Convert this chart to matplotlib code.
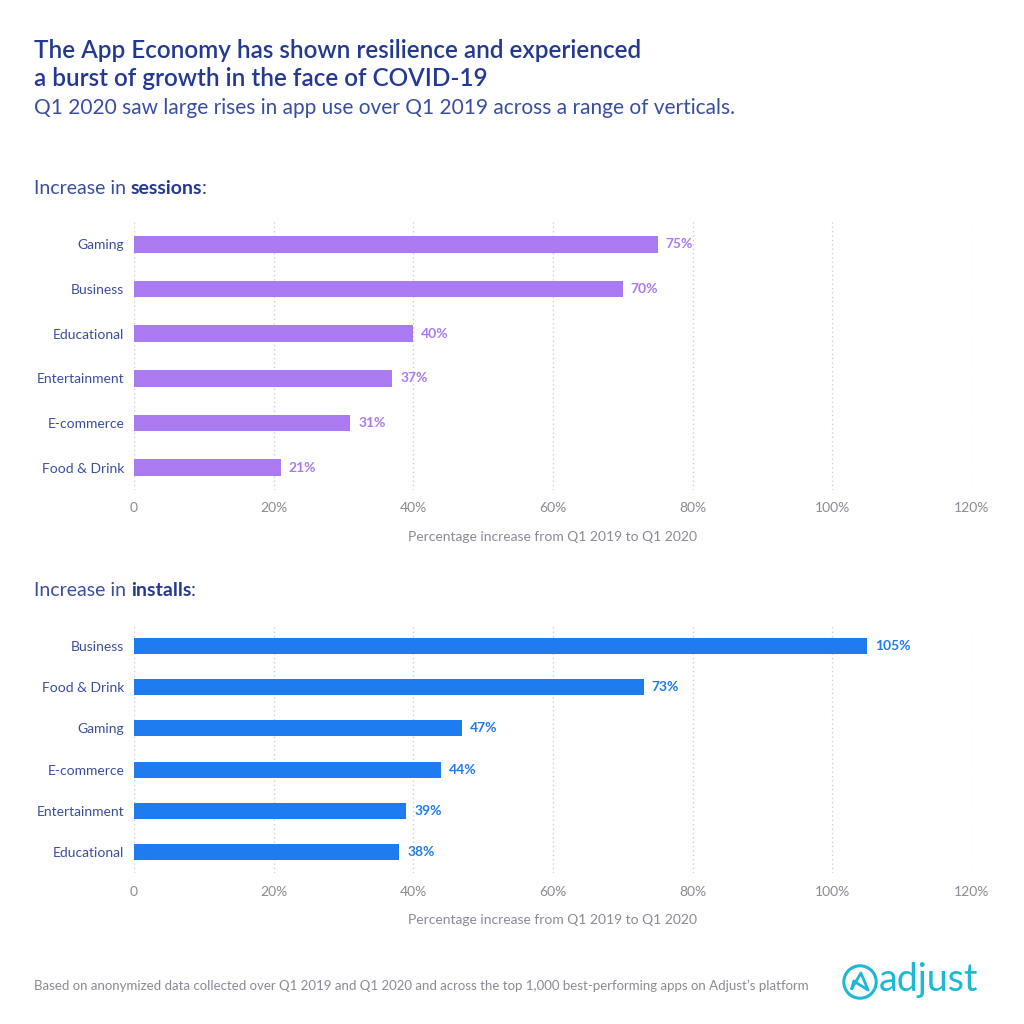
#! /usr/bin/env python3

import numpy as np
import matplotlib
matplotlib.use("Agg")
from matplotlib import pyplot as plt
from matplotlib.patches import Circle

plt.rcParams['font.family'] = ['Lato', 'DejaVu Sans']

# Data
session_cats   = ["Gaming", "Business", "Educational", "Entertainment", "E-commerce", "Food & Drink"]
session_values = [75, 70, 40, 37, 31, 21]

install_cats   = ["Business", "Food & Drink", "Gaming", "E-commerce", "Entertainment", "Educational"]
install_values = [105, 73, 47, 44, 39, 38]

x_ticks  = [0, 20, 40, 60, 80, 100, 120]
x_labels = ["0", "20%", "40%", "60%", "80%", "100%", "120%"]

purple = "#A97AF0"
blue   = "#1E7BF0"
navy   = "#243A92"
label_blue = "#3A4E9E"
grey   = "#8A8A96"
cyan   = "#1CB8D6"

W = H = 1024
fig = plt.figure(figsize=(10.24, 10.24), dpi=100)

def fx(px): return px / W
def fy(py): return 1 - py / H

#============================================================
# Headings
#============================================================
fig.text(fx(34), fy(50), "The App Economy has shown resilience and experienced",
         fontsize=17.5, color=navy, fontweight="semibold", va="center")
fig.text(fx(34), fy(78), "a burst of growth in the face of COVID-19",
         fontsize=17.5, color=navy, fontweight="semibold", va="center")
fig.text(fx(34), fy(108), "Q1 2020 saw large rises in app use over Q1 2019 across a range of verticals.",
         fontsize=15, color=label_blue, va="center")

def section_header(y, word):
    r = fig.canvas.get_renderer()
    t1 = fig.text(fx(34), fy(y), "Increase in ", fontsize=14, color=label_blue, va="center")
    bb = t1.get_window_extent(renderer=r)
    t2 = fig.text(bb.x1 / W, fy(y), word, fontsize=14, color=navy, fontweight="bold", va="center")
    bb2 = t2.get_window_extent(renderer=r)
    fig.text(bb2.x1 / W - 0.001, fy(y), ":", fontsize=14, color=navy, va="center")

#============================================================
# Bar panels
#============================================================
def bar_panel(top, bottom, cats, values, color):
    ax = fig.add_axes([fx(134), fy(bottom), fx(972) - fx(134), (bottom - top) / H])
    y = np.arange(len(cats))
    ax.barh(y, values, height=0.38, color=color, zorder=3)
    ax.set_xlim(0, 120)
    ax.set_ylim(len(cats) - 0.5, -0.5)
    ax.set_yticks(y)
    ax.set_yticklabels(cats, fontsize=10, color=label_blue)
    ax.set_xticks(x_ticks)
    ax.set_xticklabels(x_labels, fontsize=10, color=grey)
    ax.tick_params(length=0, axis="y", pad=7)
    ax.tick_params(length=0, axis="x", pad=9)
    for s in ax.spines.values():
        s.set_visible(False)
    ax.grid(True, axis="x", linestyle=(0, (1, 2.5)), color="#C8C8CC", linewidth=0.9, zorder=0)
    ax.set_xlabel("Percentage increase from Q1 2019 to Q1 2020", fontsize=10, color=grey, labelpad=12)
    for yi, v in zip(y, values):
        ax.text(v + 1.1, yi, "%d%%" % v, va="center", ha="left", fontsize=10,
                fontweight="bold", color=color)
    return ax

section_header(188, "sessions")
bar_panel(222, 490, session_cats, session_values, purple)

section_header(590, "installs")
bar_panel(625, 873, install_cats, install_values, blue)

#============================================================
# Footer + logo
#============================================================
fig.text(fx(34), fy(986), "Based on anonymized data collected over Q1 2019 and Q1 2020 and across the top 1,000 best-performing apps on Adjust\u2019s platform",
         fontsize=9.5, color=grey, va="center")

logo = fig.add_axes([fx(842), fy(1000), fx(36), 36 / H])
logo.set_xlim(-1, 1); logo.set_ylim(-1, 1); logo.axis("off")
logo.add_patch(Circle((0, 0), 0.9, fill=False, edgecolor=cyan, linewidth=2.2))
logo.plot([-0.45, 0.05, 0.45, -0.35, -0.45], [-0.35, 0.5, -0.45, 0.05, -0.35],
          color=cyan, linewidth=2, solid_joinstyle="round")
fig.text(fx(879), fy(980), "adjust", fontsize=27, color=cyan, va="center")

plt.savefig("out.png", dpi=100)
